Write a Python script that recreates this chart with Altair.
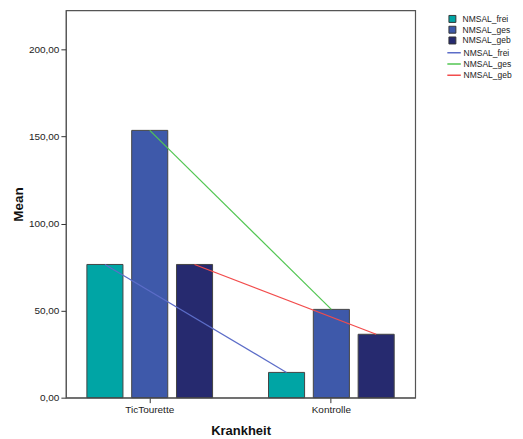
import altair as alt
import pandas as pd

gruppen = ["TicTourette", "Kontrolle"]
serien = ["NMSAL_frei", "NMSAL_ges", "NMSAL_geb"]
frei = [76.5, 14.5]
ges = [153.5, 50.7]
geb = [76.5, 36.4]
balken_farben = ["#00A5A5", "#3E59AA", "#262A6F"]
linien_farben = ["#5C6DC8", "#52C652", "#F24C4C"]
y_ticks = [0, 50, 100, 150, 200]

rows = []
for s, vals in zip(serien, [frei, ges, geb]):
    for g, v in zip(gruppen, vals):
        rows.append({"Krankheit": g, "Serie": s, "Linie": s, "Mean": v})
df = pd.DataFrame(rows)

FONT = "Liberation Sans"

x_enc = alt.X(
    "Krankheit:N",
    sort=gruppen,
    scale=alt.Scale(paddingInner=0.308, paddingOuter=0.1156),
    axis=alt.Axis(
        title="Krankheit", labelAngle=0, tickSize=5, labelPadding=2,
        labelFontSize=10, titleFontSize=13, titleFontWeight="bold",
        minExtent=18, maxExtent=18, titlePadding=9,
        domainColor="#555", tickColor="#333", labelColor="#222", titleColor="#111",
    ),
)
xoff_enc = alt.XOffset("Serie:N", sort=serien, scale=alt.Scale(paddingInner=0.195, paddingOuter=0))
y_enc = alt.Y(
    "Mean:Q",
    scale=alt.Scale(domain=[0, 222.4], nice=False, zero=True),
    axis=alt.Axis(
        title="Mean", values=y_ticks, grid=False, tickSize=5, labelPadding=2,
        labelExpr="replace(format(datum.value, '.2f'), '.', ',')",
        labelFontSize=10, titleFontSize=13.5, titleFontWeight="bold",
        minExtent=34, maxExtent=34, titlePadding=6,
        domainColor="#555", tickColor="#333", labelColor="#222", titleColor="#111",
    ),
)

bars = alt.Chart(df).mark_bar(stroke="#444", strokeWidth=1).encode(
    x=x_enc,
    xOffset=xoff_enc,
    y=y_enc,
    fill=alt.Fill(
        "Serie:N", sort=serien,
        scale=alt.Scale(domain=serien, range=balken_farben),
        legend=alt.Legend(
            title=None, orient="none", legendX=383, legendY=4, padding=0,
            symbolType="square", symbolSize=49, symbolStrokeColor="#333",
            symbolStrokeWidth=1, labelFontSize=8.5, labelOffset=6, rowPadding=1.8,
            clipHeight=9, labelColor="#222", labelLimit=200,
        ),
    ),
)

lines = alt.Chart(df).mark_line(strokeWidth=1.2).encode(
    x=x_enc,
    xOffset=xoff_enc,
    y=y_enc,
    stroke=alt.Stroke(
        "Linie:N", sort=serien,
        scale=alt.Scale(domain=serien, range=linien_farben),
        legend=alt.Legend(
            title=None, orient="none", legendX=382.2, legendY=37.8, padding=0,
            symbolType="M-2,0H2", symbolSize=72, symbolStrokeWidth=1.5,
            labelFontSize=8.5, labelOffset=6.3, rowPadding=2.3, clipHeight=9,
            labelColor="#222", labelLimit=200,
        ),
    ),
    detail="Linie:N",
)

chart = alt.layer(bars, lines).resolve_scale(fill="independent", stroke="independent").properties(
    width=350, height=388,
    autosize=alt.AutoSizeParams(type="none"),
    padding={"left": 58, "top": 2, "right": 100, "bottom": 42},
).configure(font=FONT).configure_view(stroke="#555", strokeWidth=1.2)

chart.save("out.html", embed_options={"renderer": "svg", "actions": False})
